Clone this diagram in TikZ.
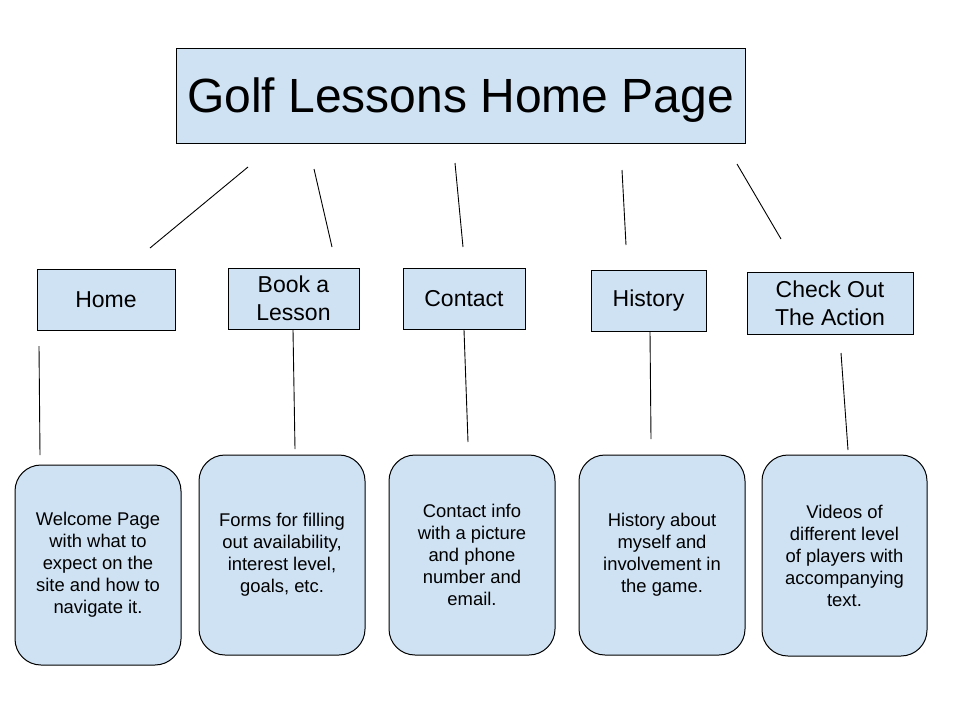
\documentclass[tikz,border=0pt]{standalone}
\usepackage{fontspec}
\setmainfont{Liberation Sans}
\usepackage{xcolor}
\usepackage{tikz}
\usetikzlibrary{positioning}
\definecolor{gledge}{RGB}{0,0,0}
\definecolor{glfill}{RGB}{207,226,243}
\tikzset{
  glbox/.style={
    draw=gledge, line width=1pt, fill=glfill,
    align=center, inner sep=0pt
  },
  titlebox/.style={glbox, font=\fontsize{48}{56}\selectfont, text depth=0pt},
  page/.style={glbox, font=\fontsize{23}{28}\selectfont, minimum height=61pt},
  desc/.style={
    glbox, rounded corners=26pt, font=\fontsize{18.4}{22}\selectfont,
    minimum width=166pt, minimum height=200pt
  },
  lnk/.style={draw=gledge, line width=0.9pt}
}

\begin{document}
\begin{tikzpicture}[x=1pt, y=-1pt]
  \useasboundingbox (0,0) rectangle (960,720);

  \node[titlebox, minimum width=569pt, minimum height=95pt] (top) at (460.5,95.5)
    {Golf Lessons Home Page};

  \node[page, minimum width=138pt] (home) at (106,299.5) {Home};
  \node[page, minimum width=131pt] (book) at (293.5,298.5) {Book a\\Lesson};
  \node[page, minimum width=122pt] (contact) at (464,298.5) {Contact};
  \node[page, minimum width=115pt] (history) at (648.5,300.5) {History};
  \node[page, minimum width=166pt, minimum height=62pt] (action) at (830,303)
    {Check Out\\The Action};

  \node[desc] (homeinfo) at (98,565)
    {Welcome Page\\with what to\\expect on the\\site and how to\\navigate it.};
  \node[desc] (bookinfo) at (282,555)
    {Forms for filling\\out availability,\\interest level,\\goals, etc.};
  \node[desc] (contactinfo) at (472,555)
    {Contact info\\with a picture\\and phone\\number and\\email.};
  \node[desc] (historyinfo) at (662,555)
    {History about\\myself and\\involvement in\\the game.};
  \node[desc, minimum width=165pt, minimum height=201pt] (actioninfo) at (844.5,555.5)
    {Videos of\\different level\\of players with\\accompanying\\text.};

  \coordinate (homeup) at (248,167);
  \coordinate (homedn) at (150,248);
  \coordinate (bookup) at (314,169);
  \coordinate (bookdn) at (332,247);
  \coordinate (contactup) at (455,163);
  \coordinate (contactdn) at (463,247);
  \coordinate (historyup) at (622,170);
  \coordinate (historydn) at (626,245);
  \coordinate (actionup) at (737,164);
  \coordinate (actiondn) at (781,239);

  \coordinate (homeinfoup) at (39,346);
  \coordinate (homeinfodn) at (40,455);
  \coordinate (bookinfoup) at (293,330);
  \coordinate (bookinfodn) at (295,449);
  \coordinate (contactinfoup) at (464,330);
  \coordinate (contactinfodn) at (468,442);
  \coordinate (historyinfoup) at (650,332);
  \coordinate (historyinfodn) at (651,439);
  \coordinate (actioninfoup) at (841,353);
  \coordinate (actioninfodn) at (848,450);

  \draw[lnk] (homeup) -- (homedn);
  \draw[lnk] (bookup) -- (bookdn);
  \draw[lnk] (contactup) -- (contactdn);
  \draw[lnk] (historyup) -- (historydn);
  \draw[lnk] (actionup) -- (actiondn);

  \draw[lnk] (homeinfoup) -- (homeinfodn);
  \draw[lnk] (bookinfoup) -- (bookinfodn);
  \draw[lnk] (contactinfoup) -- (contactinfodn);
  \draw[lnk] (historyinfoup) -- (historyinfodn);
  \draw[lnk] (actioninfoup) -- (actioninfodn);
\end{tikzpicture}
\end{document}
